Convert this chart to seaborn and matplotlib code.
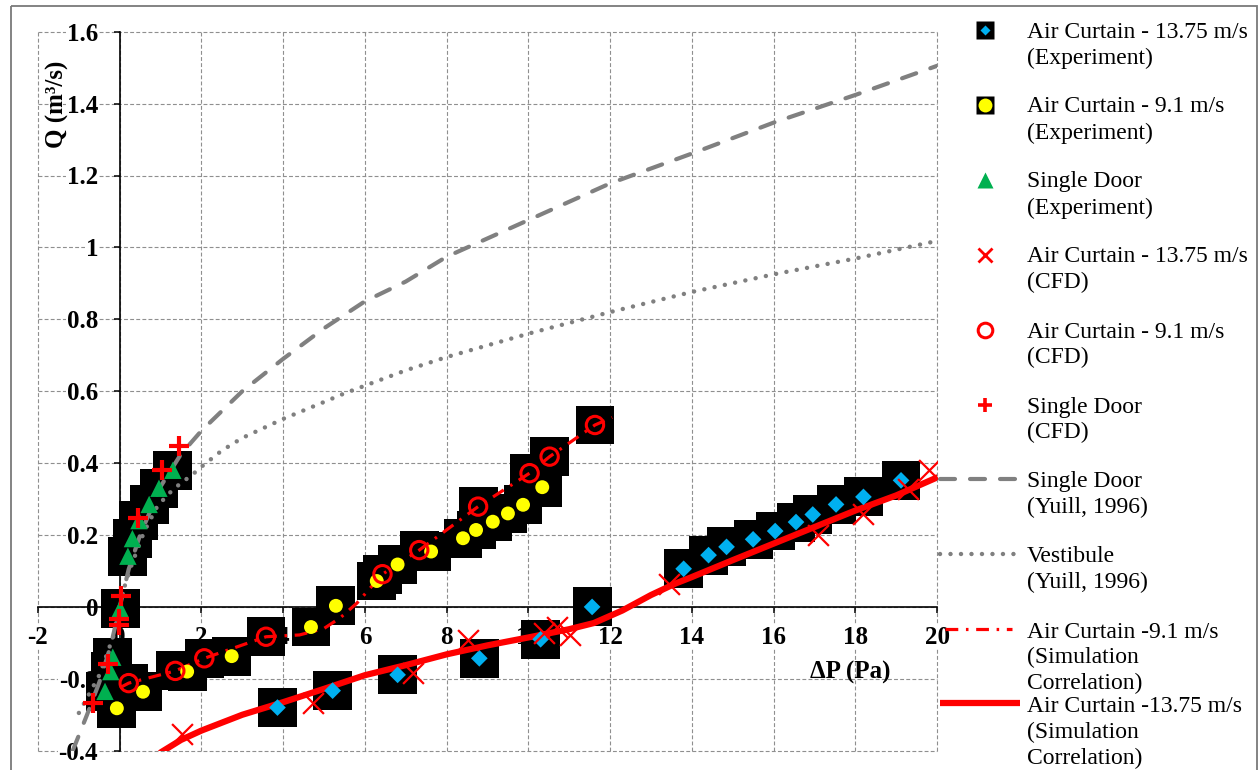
import matplotlib
matplotlib.use("Agg")
import numpy as np
import pandas as pd
import matplotlib.pyplot as plt
import seaborn as sns
from matplotlib.patches import Rectangle

# ---------------- data ----------------
# Air Curtain 13.75 m/s - Experiment (cyan diamonds)
ac1375_exp_x = [3.86, 5.21, 6.80, 8.80, 10.30, 11.56, 13.80, 14.41, 14.85, 15.50,
                16.04, 16.55, 16.96, 17.53, 18.20, 19.12]
ac1375_exp_y = [-0.280, -0.233, -0.189, -0.143, -0.090, 0.000, 0.106, 0.144, 0.167, 0.188,
                0.211, 0.236, 0.257, 0.285, 0.306, 0.352]

# Air Curtain 9.1 m/s - Experiment (yellow circles)
ac91_exp_x = [-0.07, 0.57, 1.65, 2.74, 4.68, 5.29, 6.29, 6.80, 7.62, 8.40, 8.72, 9.13,
              9.50, 9.87, 10.34]
ac91_exp_y = [-0.282, -0.236, -0.180, -0.137, -0.056, 0.003, 0.072, 0.118, 0.154, 0.191,
              0.214, 0.237, 0.260, 0.284, 0.333]

# Single Door - Experiment (green triangles)
sd_exp_x = [-0.36, -0.22, -0.17, 0.01, 0.20, 0.31, 0.47, 0.72, 0.96, 1.30]
sd_exp_y = [-0.235, -0.180, -0.140, -0.005, 0.141, 0.190, 0.240, 0.285, 0.330, 0.380]

# Air Curtain 13.75 m/s - CFD (red x)
ac1375_cfd_x = [1.53, 4.72, 7.17, 8.52, 10.38, 10.69, 11.01, 13.45, 17.10, 18.18, 19.28, 19.81]
ac1375_cfd_y = [-0.354, -0.266, -0.184, -0.092, -0.073, -0.055, -0.078, 0.065, 0.199, 0.259,
                0.329, 0.380]

# Air Curtain 9.1 m/s - CFD (red open circles)
ac91_cfd_x = [0.22, 1.36, 2.07, 3.58, 6.43, 7.33, 8.77, 10.03, 10.52, 11.63]
ac91_cfd_y = [-0.212, -0.178, -0.143, -0.083, 0.091, 0.158, 0.279, 0.372, 0.418, 0.506]

# Single Door - CFD (red plus)
sd_cfd_x = [-0.66, -0.29, -0.01, -0.01, 0.03, 0.44, 1.04, 1.45]
sd_cfd_y = [-0.268, -0.160, -0.050, -0.035, 0.030, 0.248, 0.381, 0.448]

# Single Door (Yuill, 1996) - dashed gray
yuill_sd_x = [-1.15, -0.8, -0.5, -0.22, 0.0, 0.22, 0.5, 1.0, 1.5, 2.0, 3.0, 4.0, 5.0, 6.0,
              7.0, 8.0, 10.0, 12.0, 14.0, 16.0, 18.0, 20.0]
yuill_sd_y = [-0.400, -0.300, -0.210, -0.108, 0.0, 0.105, 0.200, 0.335, 0.425, 0.490, 0.600,
              0.690, 0.775, 0.850, 0.905, 0.974, 1.076, 1.178, 1.261, 1.347, 1.424, 1.505]

# Vestibule (Yuill, 1996) - dotted gray
yuill_v_x = [-1.0, -0.5, -0.15, 0.0, 0.13, 0.3, 0.6, 0.92, 1.2, 1.5, 1.75, 2.0, 2.5, 3.0,
             4.0, 5.0, 5.5, 7.0, 8.0, 10.0, 12.0, 14.0, 16.0, 18.0, 20.0]
yuill_v_y = [-0.295, -0.190, -0.080, 0.0, 0.061, 0.120, 0.210, 0.280, 0.315, 0.345, 0.365,
             0.390, 0.435, 0.470, 0.523, 0.570, 0.594, 0.658, 0.695, 0.760, 0.820, 0.876,
             0.925, 0.969, 1.018]

# Air Curtain 9.1 m/s - Simulation correlation (red dash-dot)
sim91_x = [0.0, 0.22, 1.36, 2.07, 3.58, 4.40, 5.00, 5.40, 5.80, 6.43, 7.33, 8.77, 10.03,
           10.52, 11.63, 12.05]
sim91_y = [-0.225, -0.212, -0.178, -0.143, -0.083, -0.078, -0.060, -0.030, 0.010, 0.091,
           0.158, 0.279, 0.372, 0.418, 0.506, 0.527]

# Air Curtain 13.75 m/s - Simulation correlation (red solid)
sim1375_x = [1.0, 1.5, 2.0, 3.0, 4.0, 5.0, 6.0, 7.0, 8.0, 9.0, 10.0, 11.0, 11.6, 12.3, 13.0,
             13.6, 14.0, 15.0, 16.0, 17.0, 18.0, 19.0, 20.0]
sim1375_y = [-0.405, -0.370, -0.344, -0.300, -0.265, -0.228, -0.190, -0.162, -0.132, -0.107,
             -0.085, -0.062, -0.045, -0.010, 0.033, 0.065, 0.083, 0.130, 0.176, 0.222, 0.268,
             0.310, 0.360]

x_ticks = [-2, 0, 2, 4, 6, 8, 10, 12, 14, 16, 18, 20]
x_tick_labels = ["-2", "0", "2", "4", "6", "8", "10", "12", "14", "16", "18", "20"]
y_ticks = [-0.4, -0.2, 0.0, 0.2, 0.4, 0.6, 0.8, 1.0, 1.2, 1.4, 1.6]
y_tick_labels = ["-0.4", "-0.2", "0", "0.2", "0.4", "0.6", "0.8", "1", "1.2", "1.4", "1.6"]

legend_labels = [
    "Air Curtain - 13.75 m/s\n(Experiment)",
    "Air Curtain - 9.1 m/s\n(Experiment)",
    "Single Door\n(Experiment)",
    "Air Curtain - 13.75 m/s\n(CFD)",
    "Air Curtain - 9.1 m/s\n(CFD)",
    "Single Door\n(CFD)",
    "Single Door\n(Yuill, 1996)",
    "Vestibule\n(Yuill, 1996)",
    "Air Curtain -9.1 m/s\n(Simulation\nCorrelation)",
    "Air Curtain -13.75 m/s\n(Simulation\nCorrelation)",
]

# ---------------- style ----------------
sns.set_theme(style="white")
plt.rcParams["font.family"] = ["Liberation Serif", "DejaVu Serif"]
plt.rcParams["axes.unicode_minus"] = False
plt.rcParams["axes.axisbelow"] = True

RED = "#FF0000"
GRAY = "#808080"
CYAN = "#00B0F0"
YELLOW = "#FFFF00"
GREEN = "#00B050"

W, H = 1259, 770
fig = plt.figure(figsize=(W / 100, H / 100), dpi=100)
fig.patch.set_facecolor("white")
ax = fig.add_axes([38 / W, 1 - 750.7 / H, 899 / W, 719 / H])
ax.set_facecolor("white")

# black square backgrounds behind experiment / CFD circle markers
for bx, by in [(ac1375_exp_x, ac1375_exp_y), (ac91_exp_x, ac91_exp_y),
               (sd_exp_x, sd_exp_y), (ac91_cfd_x, ac91_cfd_y)]:
    sns.scatterplot(x=bx, y=by, marker="s", s=28 ** 2, color="black", edgecolor="none",
                    linewidth=0, ax=ax, zorder=3, legend=False)

# lines
sns.lineplot(x=yuill_sd_x, y=yuill_sd_y, ax=ax, color=GRAY, lw=3,
             linestyle=(0, (3.6, 3.6)), dash_capstyle="round",
             sort=False, estimator=None, zorder=4, legend=False)
sns.lineplot(x=yuill_v_x, y=yuill_v_y, ax=ax, color=GRAY, lw=3.2,
             linestyle=(0, (0.01, 2.35)), dash_capstyle="round",
             sort=False, estimator=None, zorder=4, legend=False)
sns.lineplot(x=sim91_x, y=sim91_y, ax=ax, color=RED, lw=2.3,
             linestyle=(0, (4, 2.4, 0.8, 2.4)),
             sort=False, estimator=None, zorder=4, legend=False)
sns.lineplot(x=sim1375_x, y=sim1375_y, ax=ax, color=RED, lw=4.5,
             sort=False, estimator=None, zorder=4, legend=False)

# markers
sns.scatterplot(x=ac1375_exp_x, y=ac1375_exp_y, marker="D", s=8.5 ** 2, color=CYAN,
                edgecolor="none", ax=ax, zorder=5, legend=False)
sns.scatterplot(x=ac91_exp_x, y=ac91_exp_y, marker="o", s=10 ** 2, color=YELLOW,
                edgecolor="none", ax=ax, zorder=5, legend=False)
sns.scatterplot(x=sd_exp_x, y=sd_exp_y, marker="^", s=12.5 ** 2, color=GREEN,
                edgecolor="none", ax=ax, zorder=5, legend=False)
sns.scatterplot(x=ac1375_cfd_x, y=ac1375_cfd_y, marker="x", s=15 ** 2, color=RED,
                linewidth=1.6, ax=ax, zorder=6, legend=False)
sns.scatterplot(x=ac91_cfd_x, y=ac91_cfd_y, marker="o", s=12.5 ** 2, color=RED,
                facecolor="none", edgecolor=RED, linewidth=2.2, ax=ax, zorder=6, legend=False)
sns.scatterplot(x=sd_cfd_x, y=sd_cfd_y, marker="+", s=15 ** 2, color=RED,
                linewidth=3, ax=ax, zorder=6, legend=False)

# axes
ax.set_xlim(-2, 20)
ax.set_ylim(-0.4, 1.6)
ax.set_xlabel("")
ax.set_ylabel("")
ax.set_xticks(x_ticks)
ax.set_xticklabels(x_tick_labels)
ax.set_yticks(y_ticks)
ax.set_yticklabels(y_tick_labels)
for s in ["top", "right"]:
    ax.spines[s].set_visible(False)
for s in ["left", "bottom"]:
    ax.spines[s].set_position(("data", 0))
    ax.spines[s].set_color("black")
    ax.spines[s].set_linewidth(1.2)
    ax.spines[s].set_zorder(2)
ax.tick_params(axis="both", which="major", direction="out", length=4.5, width=1.1,
               color="black", labelsize=18, labelcolor="black")
ax.tick_params(axis="x", pad=9)
ax.tick_params(axis="y", pad=11)
ax.xaxis.set_ticks_position("bottom")
ax.yaxis.set_ticks_position("left")
for lab in ax.get_xticklabels() + ax.get_yticklabels():
    lab.set_fontweight("bold")
    lab.set_bbox(dict(facecolor="white", edgecolor="none", pad=0.5))
ax.grid(True, color="#8f8f8f", linestyle=(0, (3.5, 2)), linewidth=0.8)
for gl in ax.get_xgridlines() + ax.get_ygridlines():
    gl.set_clip_on(False)

fig.text(57 / W, 1 - 104 / H, "Q (m³/s)", rotation=90, ha="center", va="center",
         fontsize=18, fontweight="bold", color="black")
fig.text(850 / W, 1 - 672 / H, "ΔP (Pa)", ha="center", va="center",
         fontsize=18, fontweight="bold", color="black")

# ---------------- legend (manual layout) ----------------
lax = fig.add_axes([0, 0, 1, 1])
lax.set_xlim(0, W)
lax.set_ylim(H, 0)
lax.axis("off")
lax.add_patch(Rectangle((11, 6), 1246, 900, fill=False, edgecolor="#7a7a7a", lw=1.3,
                        clip_on=False))

mx = 985
ly = [30, 105, 180, 255, 330, 405, 480, 555, 630, 705]
lax.plot([mx], [ly[0]], marker="s", ms=13, color="black", mec="none", ls="none")
lax.plot([mx], [ly[0]], marker="D", ms=5.5, color=CYAN, mec="none", ls="none")
lax.plot([mx], [ly[1]], marker="s", ms=13, color="black", mec="none", ls="none")
lax.plot([mx], [ly[1]], marker="o", ms=10, color=YELLOW, mec="none", ls="none")
lax.plot([mx], [ly[2]], marker="^", ms=11, color=GREEN, mec="none", ls="none")
lax.plot([mx], [ly[3]], marker="x", ms=10.5, color=RED, mew=2, ls="none")
lax.plot([mx], [ly[4]], marker="o", ms=10.5, mfc="none", mec=RED, mew=2.2, ls="none")
lax.plot([mx], [ly[5]], marker="+", ms=10.5, color=RED, mew=2.6, ls="none")
lax.plot([940, 1022], [ly[6] - 1, ly[6] - 1], color=GRAY, lw=3,
         linestyle=(0, (3.6, 3.6)), dash_capstyle="round")
lax.plot([940, 1022], [ly[7] - 1, ly[7] - 1], color=GRAY, lw=3.2,
         linestyle=(0, (0.01, 2.35)), dash_capstyle="round")
lax.plot([945, 1012], [ly[8] - 1, ly[8] - 1], color=RED, lw=2.3,
         linestyle=(0, (4, 2.4, 0.8, 2.4)))
lax.plot([940, 1020], [ly[9] - 2, ly[9] - 2], color=RED, lw=4.5, solid_capstyle="butt")
for yy, lab in zip(ly, legend_labels):
    lax.text(1027, yy - 8.5, lab, ha="left", va="top", fontsize=17, linespacing=1.3,
             color="black")

fig.savefig("out.png", dpi=100, facecolor="white")
